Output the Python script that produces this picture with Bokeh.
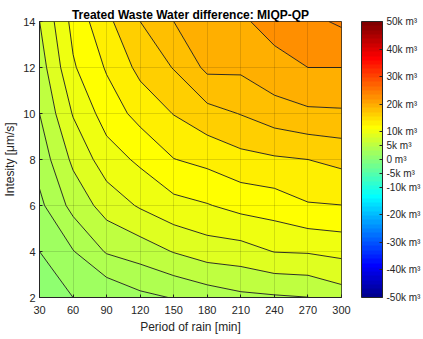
from bokeh.plotting import figure
from bokeh.models import ColorBar, LinearColorMapper, FixedTicker, Range1d, AllLabels
from bokeh.embed import file_html
from bokeh.resources import INLINE
import numpy as np

# ---- data (values in thousands of m^3) ----
period_min = [30, 60, 90, 120, 150, 180, 210, 240, 270, 300]
intensity = [2, 4, 6, 8, 10, 12, 14]
z_i2 = [0.4, 2.0, 2.3, 3.5, 4.1, 4.87, 5.54, 5.75, 5.97, 7.0]
z_i4 = [2.0, 3.9, 6.19, 6.94, 8.1, 8.98, 9.19, 10.06, 10.17, 10.55]
z_i6 = [3.53, 6.65, 8.84, 10.23, 11.36, 11.88, 12.63, 12.96, 13.84, 13.97]
z_i8 = [4.82, 8.41, 11.05, 12.39, 13.95, 14.53, 15.37, 15.74, 16.0, 16.52]
z_i10 = [6.0, 10.14, 12.9, 14.67, 16.07, 17.3, 18.08, 19.04, 19.65, 19.74]
z_i12 = [7.0, 11.76, 14.2, 16.55, 18.1, 20.46, 20.37, 21.45, 22.0, 22.0]
z_i14 = [7.98, 12.6, 15.5, 18.0, 20.0, 20.8, 21.75, 22.6, 23.5, 24.3]
contour_levels = [0, 2, 4, 6, 8, 10, 12, 14, 16, 18, 20, 22, 24, 26]
cbar_ticks = [-50, -40, -30, -20, -10, -5, 0, 5, 10, 20, 30, 40, 50]
cbar_labels = ["-50k m³", "-40k m³", "-30k m³", "-20k m³", "-10k m³", "-5k m³", "0 m³",
               "5k m³", "10k m³", "20k m³", "30k m³", "40k m³", "50k m³"]
clim = (-50, 50)


# ---- MATLAB jet(64) colormap ----
def jet(m=64):
    n = int(np.ceil(m / 4))
    u = np.concatenate([np.arange(1, n + 1) / n, np.ones(n - 1), np.arange(n, 0, -1) / n])
    g = int(np.ceil(n / 2)) - (1 if m % 4 == 1 else 0) + np.arange(1, len(u) + 1)
    r = g + n
    b = g - n
    g = g[g <= m]
    r = r[r <= m]
    b = b[b >= 1]
    J = np.zeros((m, 3))
    J[r - 1, 0] = u[:len(r)]
    J[g - 1, 1] = u[:len(g)]
    J[b - 1, 2] = u[len(u) - len(b):]
    return ["#%02x%02x%02x" % tuple(int(round(c * 255)) for c in row) for row in J]


jet64 = jet(64)


def cmap_color(v):
    idx = int(np.floor((v - clim[0]) / (clim[1] - clim[0]) * 64))
    idx = min(max(idx, 0), 63)
    return jet64[idx]


band_colors = [cmap_color(v) for v in contour_levels[:-1]]

X, Y = np.meshgrid(np.array(period_min, float), np.array(intensity, float))
Z = np.array([z_i2, z_i4, z_i6, z_i8, z_i10, z_i12, z_i14], float)

FONT = "Liberation Sans"
TXT = "#262626"

p = figure(frame_width=302, frame_height=276,
           x_range=Range1d(30, 300), y_range=Range1d(2, 14),
           output_backend="svg", toolbar_location=None,
           min_border_left=32, min_border_right=10, min_border_top=21, min_border_bottom=42,
           title="Treated Waste Water difference: MIQP-QP")

p.contour(X, Y, Z, contour_levels, fill_color=band_colors,
          line_color="#1a1a1a", line_width=0.9)

p.title.text_font = FONT
p.title.text_font_size = "12px"
p.title.text_font_style = "bold"
p.title.align = "center"
p.title.text_color = "#000000"
p.title.standoff = 0
p.title.offset = 0

p.xaxis.ticker = FixedTicker(ticks=period_min)
p.yaxis.ticker = FixedTicker(ticks=intensity)
p.xaxis.axis_label = "Period of rain [min]"
p.yaxis.axis_label = "Intesity [μm/s]"
for ax in (p.xaxis[0], p.yaxis[0]):
    ax.axis_label_text_font = FONT
    ax.axis_label_text_font_size = "12px"
    ax.axis_label_text_font_style = "normal"
    ax.axis_label_text_color = TXT
    ax.major_label_text_font = FONT
    ax.major_label_text_font_size = "11px"
    ax.major_label_text_color = TXT
    ax.major_tick_in = 3
    ax.major_tick_out = 0
    ax.minor_tick_line_color = None
    ax.axis_line_color = TXT
    ax.major_tick_line_color = TXT
    ax.major_label_standoff = 4
    ax.axis_label_standoff = 3
p.xaxis[0].major_label_standoff = 8

p.xgrid.ticker = FixedTicker(ticks=period_min)
p.ygrid.ticker = FixedTicker(ticks=intensity)
for gr in (p.xgrid[0], p.ygrid[0]):
    gr.grid_line_color = "#000000"
    gr.grid_line_alpha = 0.13
    gr.level = "annotation"

p.outline_line_color = TXT
p.outline_line_alpha = 1.0

mapper = LinearColorMapper(palette=jet64, low=clim[0], high=clim[1])
cb = ColorBar(color_mapper=mapper, ticker=FixedTicker(ticks=cbar_ticks),
              major_label_overrides={t: l for t, l in zip(cbar_ticks, cbar_labels)},
              major_label_policy=AllLabels(),
              width=21, height=276, padding=0, margin=0, location=(20, 0),
              major_label_text_font=FONT, major_label_text_font_size="10px",
              major_label_text_color=TXT, label_standoff=4,
              major_tick_in=3, major_tick_out=0, major_tick_line_color=TXT,
              bar_line_color=TXT, background_fill_alpha=0, border_line_color=None)
p.add_layout(cb, "right")

open("out.html", "w").write(file_html(p, INLINE))
